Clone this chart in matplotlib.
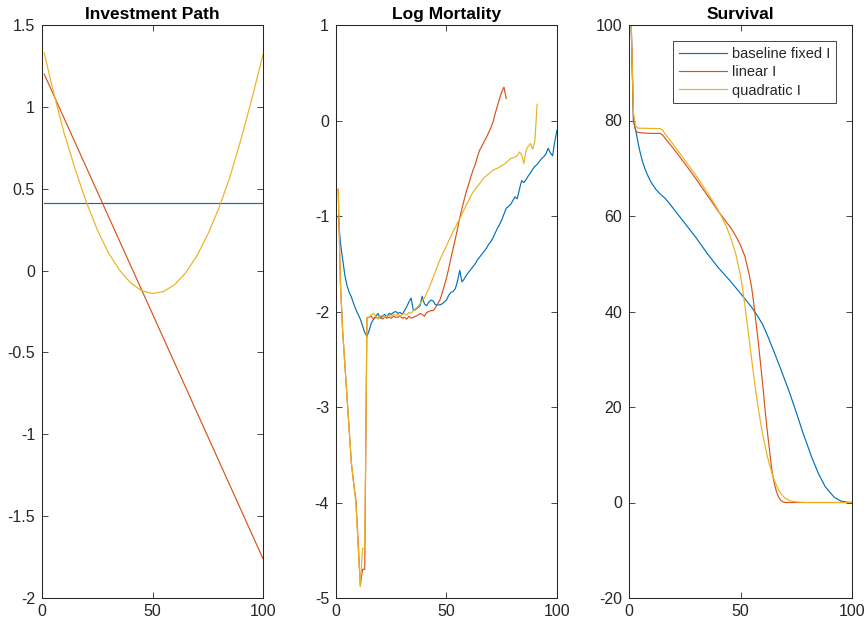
import matplotlib
matplotlib.use("Agg")
import matplotlib.pyplot as plt

plt.rcParams["font.family"] = ["Liberation Sans", "DejaVu Sans"]
plt.rcParams["axes.unicode_minus"] = False

# ---- colours (MATLAB default order) ----
C_BASE = "#0072BD"
C_LIN = "#D95319"
C_QUAD = "#EDB120"

series_labels = ["baseline fixed I", "linear I", "quadratic I"]

# ---- Investment path ----
inv_base_age = [1, 100]
inv_base = [0.41, 0.41]
inv_lin_age = [1, 100]
inv_lin = [1.20, -1.76]
inv_quad_age = [1, 5, 10, 15, 20, 25, 30, 35, 40, 45, 50, 55, 60, 65, 70, 75, 80, 85, 90, 95, 100]
inv_quad = [1.33, 1.10, 0.84, 0.62, 0.42, 0.25, 0.11, 0.004, -0.074, -0.122, -0.14,
            -0.128, -0.086, -0.014, 0.088, 0.22, 0.38, 0.57, 0.80, 1.05, 1.32]

# ---- Log mortality ----
mort_base_age = list(range(1, 101))
mort_base = [-1.00, -1.28, -1.45, -1.62, -1.73, -1.80, -1.85, -1.92, -1.98, -2.03,
             -2.08, -2.15, -2.22, -2.26, -2.20, -2.12, -2.08, -2.05, -2.02, -2.07,
             -2.05, -2.03, -2.06, -2.02, -2.03, -2.01, -2.00, -2.02, -2.01, -2.03,
             -1.99, -1.95, -1.90, -1.86, -1.99, -1.98, -1.96, -1.94, -1.84, -1.92,
             -1.94, -1.90, -1.88, -1.89, -1.93, -1.93, -1.93, -1.92, -1.90, -1.88,
             -1.83, -1.80, -1.79, -1.76, -1.68, -1.57, -1.69, -1.66, -1.62, -1.59,
             -1.56, -1.53, -1.50, -1.46, -1.43, -1.40, -1.37, -1.34, -1.30, -1.27,
             -1.23, -1.18, -1.13, -1.09, -1.04, -0.98, -0.92, -0.90, -0.88, -0.84,
             -0.80, -0.82, -0.72, -0.63, -0.65, -0.62, -0.58, -0.55, -0.51, -0.48,
             -0.46, -0.43, -0.40, -0.38, -0.35, -0.29, -0.34, -0.37, -0.22, -0.10]

mort_lin_age = list(range(1, 78))
mort_lin = [-0.72, -1.70, -2.20, -2.55, -2.90, -3.25, -3.60, -3.80, -3.97, -4.40,
            -4.87, -4.70, -4.70, -2.07, -2.06, -2.05, -2.08, -2.06, -2.07, -2.05,
            -2.08, -2.06, -2.07, -2.06, -2.07, -2.05, -2.06, -2.06, -2.05, -2.07,
            -2.06, -2.08, -2.05, -2.07, -2.06, -2.05, -2.04, -2.02, -2.03, -2.05,
            -2.01, -2.00, -1.99, -1.99, -1.96, -1.92, -1.88, -1.81, -1.73, -1.65,
            -1.55, -1.44, -1.34, -1.24, -1.13, -1.02, -0.92, -0.83, -0.74, -0.67,
            -0.59, -0.52, -0.46, -0.38, -0.31, -0.27, -0.22, -0.18, -0.13, -0.08,
            -0.02, 0.07, 0.15, 0.23, 0.30, 0.35, 0.23]

mort_quad_age = list(range(1, 92))
mort_quad = [-0.72, -1.70, -2.20, -2.55, -2.90, -3.25, -3.60, -3.80, -4.00, -4.45,
             -4.88, -4.48, -4.48, -2.06, -2.06, -2.03, -2.02, -2.05, -2.08, -2.05,
             -2.04, -2.06, -2.05, -2.04, -2.05, -2.03, -2.04, -2.03, -2.05, -2.03,
             -2.02, -2.04, -2.01, -2.02, -1.99, -1.97, -1.95, -1.92, -1.89, -1.86,
             -1.81, -1.76, -1.70, -1.64, -1.58, -1.52, -1.46, -1.41, -1.36, -1.31,
             -1.26, -1.21, -1.16, -1.12, -1.07, -1.03, -0.98, -0.93, -0.88, -0.84,
             -0.79, -0.75, -0.72, -0.69, -0.66, -0.63, -0.60, -0.58, -0.56, -0.54,
             -0.52, -0.51, -0.50, -0.49, -0.47, -0.46, -0.44, -0.42, -0.40, -0.39,
             -0.38, -0.37, -0.33, -0.36, -0.45, -0.31, -0.27, -0.24, -0.30, -0.21,
             0.17]

# ---- Survival ----
surv_base_age = [1, 2, 3, 4, 5, 6, 7, 8, 9, 10, 12, 14, 16, 18, 20, 22, 25, 30, 35, 40,
                 45, 50, 55, 58, 60, 62, 65, 68, 70, 72, 75, 78, 80, 82, 85, 88, 90, 92,
                 95, 98, 100]
surv_base = [100, 80.0, 78.0, 75.5, 73.3, 71.5, 70.1, 68.9, 67.9, 67.0, 65.6, 64.6, 63.8,
             62.7, 61.5, 60.3, 58.5, 55.5, 52.2, 49.2, 46.6, 43.8, 40.9, 38.8, 37.2, 35.1,
             31.6, 28.0, 25.5, 23.0, 18.9, 14.6, 12.0, 9.4, 6.0, 3.3, 2.2, 1.1, 0.3,
             0.05, 0.0]

surv_lin_age = [1, 2, 3, 4, 6, 10, 14, 15, 16, 20, 25, 30, 35, 38, 40, 42, 44, 46, 48, 50,
                52, 54, 55, 56, 57, 58, 59, 60, 61, 62, 63, 64, 65, 66, 67, 68, 69, 70,
                72, 100]
surv_lin = [100, 80.0, 77.8, 77.5, 77.4, 77.3, 77.3, 77.0, 76.4, 74.1, 71.0, 67.8, 64.4,
            62.4, 61.0, 59.8, 58.5, 57.3, 55.7, 53.9, 51.5, 47.5, 45.0, 41.5, 37.5, 33.5,
            29.0, 24.5, 19.5, 15.0, 11.0, 7.0, 4.3, 2.5, 1.2, 0.5, 0.15, 0.0, 0.0, 0.0]

surv_quad_age = [1, 2, 3, 4, 14, 15, 16, 20, 25, 30, 35, 38, 40, 42, 44, 46, 48, 50, 51,
                 52, 53, 54, 55, 56, 57, 58, 59, 60, 61, 62, 63, 64, 65, 66, 67, 68, 70,
                 72, 75, 78, 80, 100]
surv_quad = [100, 81.5, 78.8, 78.4, 78.3, 78.0, 77.3, 74.9, 71.7, 68.5, 65.0, 62.8, 61.2,
             59.4, 57.4, 54.9, 51.8, 47.5, 44.6, 41.2, 37.5, 33.8, 30.0, 26.3, 22.8, 19.7,
             16.8, 14.2, 11.9, 9.8, 7.9, 6.3, 4.9, 3.7, 2.7, 1.9, 0.9, 0.4, 0.1, 0.02,
             0.0, 0.0]

# ---- axis ticks ----
x_ticks = [0, 50, 100]
inv_yticks = [-2, -1.5, -1, -0.5, 0, 0.5, 1, 1.5]
inv_ylabels = ["-2", "-1.5", "-1", "-0.5", "0", "0.5", "1", "1.5"]
mort_yticks = [-5, -4, -3, -2, -1, 0, 1]
mort_ylabels = ["-5", "-4", "-3", "-2", "-1", "0", "1"]
surv_yticks = [-20, 0, 20, 40, 60, 80, 100]
surv_ylabels = ["-20", "0", "20", "40", "60", "80", "100"]

W, H = 867, 626
fig = plt.figure(figsize=(W / 100, H / 100), dpi=100)

def px_axes(left, right, top, bottom):
    return fig.add_axes([left / W, 1 - bottom / H, (right - left) / W, (bottom - top) / H])

ax1 = px_axes(42, 263, 25, 598)
ax2 = px_axes(336, 557, 25, 598)
ax3 = px_axes(629, 852, 25, 598)

LW = 0.85

def style(ax, title, ylim, yticks, ylabels):
    ax.set_xlim(0, 100)
    ax.set_ylim(*ylim)
    ax.set_xticks(x_ticks)
    ax.set_xticklabels([str(t) for t in x_ticks])
    ax.set_yticks(yticks)
    ax.set_yticklabels(ylabels)
    ax.tick_params(direction="in", top=True, right=True, length=4, width=0.6,
                   color="#262626", labelcolor="#262626", labelsize=11.5)
    ax.tick_params(axis="x", pad=4)
    ax.tick_params(axis="y", pad=5)
    for sp in ax.spines.values():
        sp.set_color("#262626")
        sp.set_linewidth(0.75)
    ax.set_title(title, fontsize=12.5, fontweight="bold", pad=4)

ax1.plot(inv_base_age, inv_base, color=C_BASE, lw=LW)
ax1.plot(inv_lin_age, inv_lin, color=C_LIN, lw=LW)
ax1.plot(inv_quad_age, inv_quad, color=C_QUAD, lw=LW)
style(ax1, "Investment Path", (-2, 1.5), inv_yticks, inv_ylabels)

ax2.plot(mort_base_age, mort_base, color=C_BASE, lw=LW)
ax2.plot(mort_lin_age, mort_lin, color=C_LIN, lw=LW)
ax2.plot(mort_quad_age, mort_quad, color=C_QUAD, lw=LW)
style(ax2, "Log Mortality", (-5, 1), mort_yticks, mort_ylabels)

ax3.plot(surv_base_age, surv_base, color=C_BASE, lw=LW, label=series_labels[0])
ax3.plot(surv_lin_age, surv_lin, color=C_LIN, lw=LW, label=series_labels[1])
ax3.plot(surv_quad_age, surv_quad, color=C_QUAD, lw=LW, label=series_labels[2])
style(ax3, "Survival", (-20, 100), surv_yticks, surv_ylabels)

leg = ax3.legend(loc="upper right", bbox_to_anchor=((836 - 629) / 223, (598 - 41) / 573),
                 borderaxespad=0, fontsize=10.5, handlelength=3.3, handletextpad=0.35,
                 borderpad=0.4, labelspacing=0.3, fancybox=False, framealpha=1)
leg.get_frame().set_edgecolor("#262626")
leg.get_frame().set_linewidth(0.6)
for t in leg.get_texts():
    t.set_color("#262626")

fig.savefig("out.png", dpi=100, facecolor="white")
